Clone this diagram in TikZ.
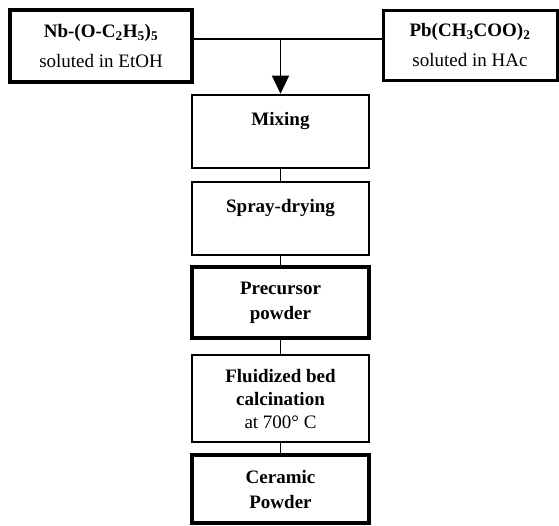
\documentclass[tikz,border=0pt]{standalone}
\usepackage{fontspec}
\setmainfont{Liberation Serif}
\usetikzlibrary{arrows.meta}
\begin{document}
\begin{tikzpicture}[
  x=1pt, y=-1pt,
  src/.style={draw, line width=3pt, inner sep=0pt, align=center,
    font=\fontsize{19}{30}\selectfont},
  box/.style={draw, line width=2.6pt, inner sep=0pt, align=center,
    minimum width=177pt, font=\fontsize{19}{25}\selectfont},
  heavy/.style={line width=3.8pt},
  link/.style={line width=1.3pt},
  arr/.style={-{Triangle[length=18pt,width=17pt]}, line width=1.3pt}
]
\useasboundingbox (0,0) rectangle (559,525);
% starting solutions
\node[src, line width=3.6pt, minimum width=182pt, minimum height=72pt] (nb) at (101,46)
  {\textbf{Nb-(O-C\textsubscript{2}H\textsubscript{5})\textsubscript{5}}\\soluted in EtOH};
\node[src, minimum width=174pt, minimum height=70pt] (pb) at (470,45)
  {\textbf{Pb(CH\textsubscript{3}COO)\textsubscript{2}}\\soluted in HAc};
% process chain
\node[box, minimum height=73pt] (mix) at (280.5,131.5) {\textbf{Mixing}\\ ~};
\node[box, minimum height=73pt] (spray) at (280.5,218.5) {\textbf{Spray-drying}\\ ~};
\node[box, heavy, minimum height=71pt] (prec) at (280.5,302.5)
  {\textbf{Precursor}\\\textbf{powder}};
\node[box, minimum height=87pt, font=\fontsize{19}{23}\selectfont] (fluid) at (280.5,398.5)
  {\textbf{Fluidized bed}\\\textbf{calcination}\\at 700° C};
\node[box, line width=4.4pt, minimum height=68pt] (cer) at (280.5,489)
  {\textbf{Ceramic}\\\textbf{Powder}};
% connectors
\coordinate (join) at (280.5,39);
\draw[link] (nb.east |- join) -- (pb.west |- join);
\draw[arr] (join) -- (mix.north);
\draw[link] (mix) -- (spray);
\draw[link] (spray) -- (prec);
\draw[link] (prec) -- (fluid);
\draw[link] (fluid) -- (cer);
\end{tikzpicture}
\end{document}
